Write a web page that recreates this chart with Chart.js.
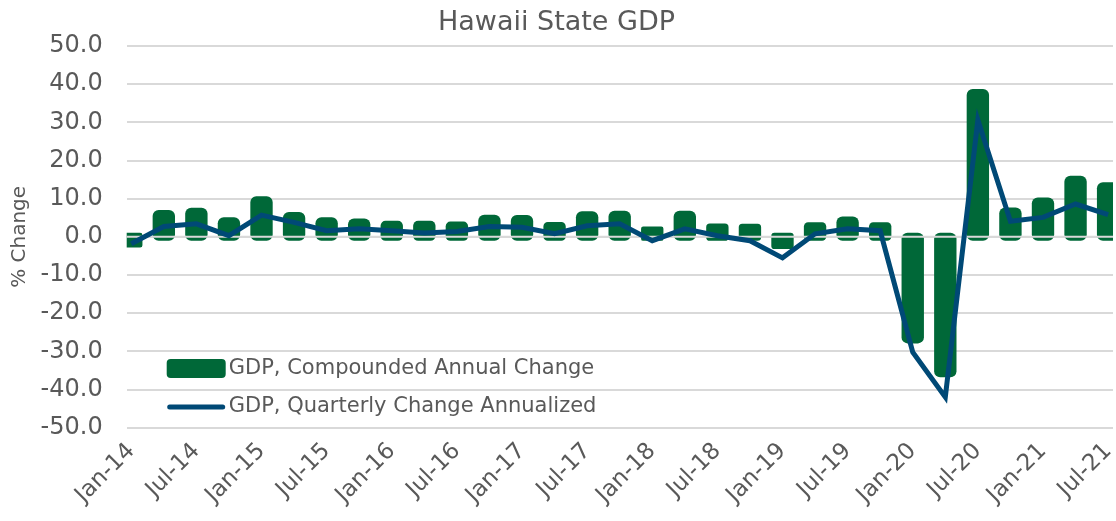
<!DOCTYPE html>
<html>
<head>
<meta charset="utf-8">
<script src="https://cdn.jsdelivr.net/npm/chart.js@4/dist/chart.umd.min.js"></script>
<style>
    html, body { margin: 0; padding: 0; background: #fff; }
    #wrap { width: 1116px; height: 521px; position: relative; }
</style>
</head>
<body>
<div id="wrap"><canvas id="gdpChart"></canvas></div>
<script>
// Quarterly labels, Jan-14 .. Jul-21
const quarters = [
    'Jan-14', 'Apr-14', 'Jul-14', 'Oct-14',
    'Jan-15', 'Apr-15', 'Jul-15', 'Oct-15',
    'Jan-16', 'Apr-16', 'Jul-16', 'Oct-16',
    'Jan-17', 'Apr-17', 'Jul-17', 'Oct-17',
    'Jan-18', 'Apr-18', 'Jul-18', 'Oct-18',
    'Jan-19', 'Apr-19', 'Jul-19', 'Oct-19',
    'Jan-20', 'Apr-20', 'Jul-20', 'Oct-20',
    'Jan-21', 'Apr-21', 'Jul-21'
];

// GDP, Compounded Annual Change (bars)
const compoundedAnnual = [
    -1.5, 5.7, 6.3, 3.8,
    9.3, 5.2, 3.8, 3.5,
    2.9, 2.9, 2.7, 4.5,
    4.4, 2.6, 5.4, 5.5,
    1.4, 5.5, 2.2, 2.1,
    -1.9, 2.5, 4.0, 2.5,
    -26.6, -35.5, 37.4, 6.4,
    9.0, 14.7, 13.0
];

// GDP, Quarterly Change Annualized (line)
const quarterlyAnnualized = [
    -1.8, 2.7, 3.4, 0.3,
    5.7, 3.8, 1.6, 2.1,
    1.6, 1.0, 1.4, 2.7,
    2.5, 0.8, 2.9, 3.4,
    -1.0, 2.1, 0.3, -1.0,
    -5.5, 0.8, 2.1, 1.6,
    -30.2, -42.0, 30.6, 4.1,
    5.1, 8.6, 5.8
];

const yTicks = [-50, -40, -30, -20, -10, 0, 10, 20, 30, 40, 50];

const GREEN = '#006838';
const BLUE = '#004976';
const TEXT = '#595959';
const GRID = '#d9d9d9';
const FONT = "'DejaVu Sans', Verdana, sans-serif";

// zero line drawn over the bars, under the line series
const zeroLine = {
    id: 'zeroLine',
    afterDatasetDraw(chart, args) {
        if (args.meta.type !== 'bar') return;
        const { ctx, chartArea } = chart;
        const y = chart.scales.y.getPixelForValue(0);
        ctx.save();
        ctx.strokeStyle = GRID;
        ctx.lineWidth = 2;
        ctx.beginPath();
        ctx.moveTo(chartArea.left, y);
        ctx.lineTo(chartArea.right, y);
        ctx.stroke();
        ctx.restore();
    }
};

// legend sitting inside the plot, lower left
const innerLegend = {
    id: 'innerLegend',
    afterDraw(chart) {
        const { ctx, chartArea } = chart;
        const x = chartArea.left + 40;
        const y1 = chartArea.top + 323;
        const y2 = chartArea.top + 361;
        ctx.save();
        ctx.fillStyle = GREEN;
        ctx.beginPath();
        ctx.roundRect(x, y1 - 10, 59, 19, 4);
        ctx.fill();
        ctx.strokeStyle = BLUE;
        ctx.lineWidth = 5;
        ctx.lineCap = 'round';
        ctx.beginPath();
        ctx.moveTo(x + 3, y2);
        ctx.lineTo(x + 56, y2);
        ctx.stroke();
        ctx.fillStyle = TEXT;
        ctx.font = `21px ${FONT}`;
        ctx.textBaseline = 'middle';
        ctx.fillText(chart.data.datasets[1].label, x + 62, y1);
        ctx.fillText(chart.data.datasets[0].label, x + 62, y2);
        ctx.restore();
    }
};

const ctx = document.getElementById('gdpChart').getContext('2d');

new Chart(ctx, {
    data: {
        datasets: [
            {
                type: 'line',
                label: 'GDP, Quarterly Change Annualized',
                data: quarterlyAnnualized.map((v, i) => ({ x: i, y: v })),
                borderColor: BLUE,
                borderWidth: 5,
                pointRadius: 0,
                tension: 0,
                clip: 0,
                order: 0
            },
            {
                type: 'bar',
                label: 'GDP, Compounded Annual Change',
                data: compoundedAnnual.map((v, i) => ({ x: i, y: v })),
                backgroundColor: GREEN,
                borderWidth: 0,
                borderRadius: 6,
                borderSkipped: false,
                inflateAmount: 5,
                barPercentage: 0.38,
                categoryPercentage: 1,
                clip: 0,
                order: 1
            }
        ]
    },
    options: {
        responsive: true,
        maintainAspectRatio: false,
        animation: false,
        layout: {
            padding: { left: 0, right: 3, top: 0, bottom: 0 }
        },
        plugins: {
            legend: { display: false },
            tooltip: { enabled: false },
            title: {
                display: true,
                text: 'Hawaii State GDP',
                color: TEXT,
                font: { family: FONT, size: 27, weight: 'normal' },
                padding: { top: 7, bottom: 6.6 }
            }
        },
        scales: {
            x: {
                type: 'linear',
                offset: false,
                min: -0.14,
                max: 30.15,
                afterBuildTicks: scale => {
                    scale.ticks = quarters
                        .map((q, i) => ({ value: i }))
                        .filter(t => t.value % 2 === 0);
                },
                afterFit: scale => {
                    scale.height = 93.3;
                    scale.paddingLeft = 0;
                    scale.paddingRight = 0;
                },
                grid: { display: false, drawTicks: false },
                border: { display: false },
                ticks: {
                    autoSkip: false,
                    minRotation: 45,
                    maxRotation: 45,
                    padding: 10,
                    color: TEXT,
                    font: { family: FONT, size: 23 },
                    callback: value => quarters[value]
                }
            },
            y: {
                min: -50,
                max: 50,
                afterBuildTicks: scale => {
                    scale.ticks = yTicks.map(v => ({ value: v }));
                },
                afterFit: scale => {
                    scale.width = 126.7;
                    scale.paddingTop = 0;
                    scale.paddingBottom = 0;
                },
                grid: { color: GRID, lineWidth: 2, drawTicks: false },
                border: { display: false },
                ticks: {
                    padding: 24,
                    color: TEXT,
                    font: { family: FONT, size: 24 },
                    callback: value => value.toFixed(1)
                },
                title: {
                    display: true,
                    text: '% Change',
                    color: TEXT,
                    font: { family: FONT, size: 20 },
                    padding: { top: 8, bottom: 0 }
                }
            }
        }
    },
    plugins: [zeroLine, innerLegend]
});
</script>
</body>
</html>
